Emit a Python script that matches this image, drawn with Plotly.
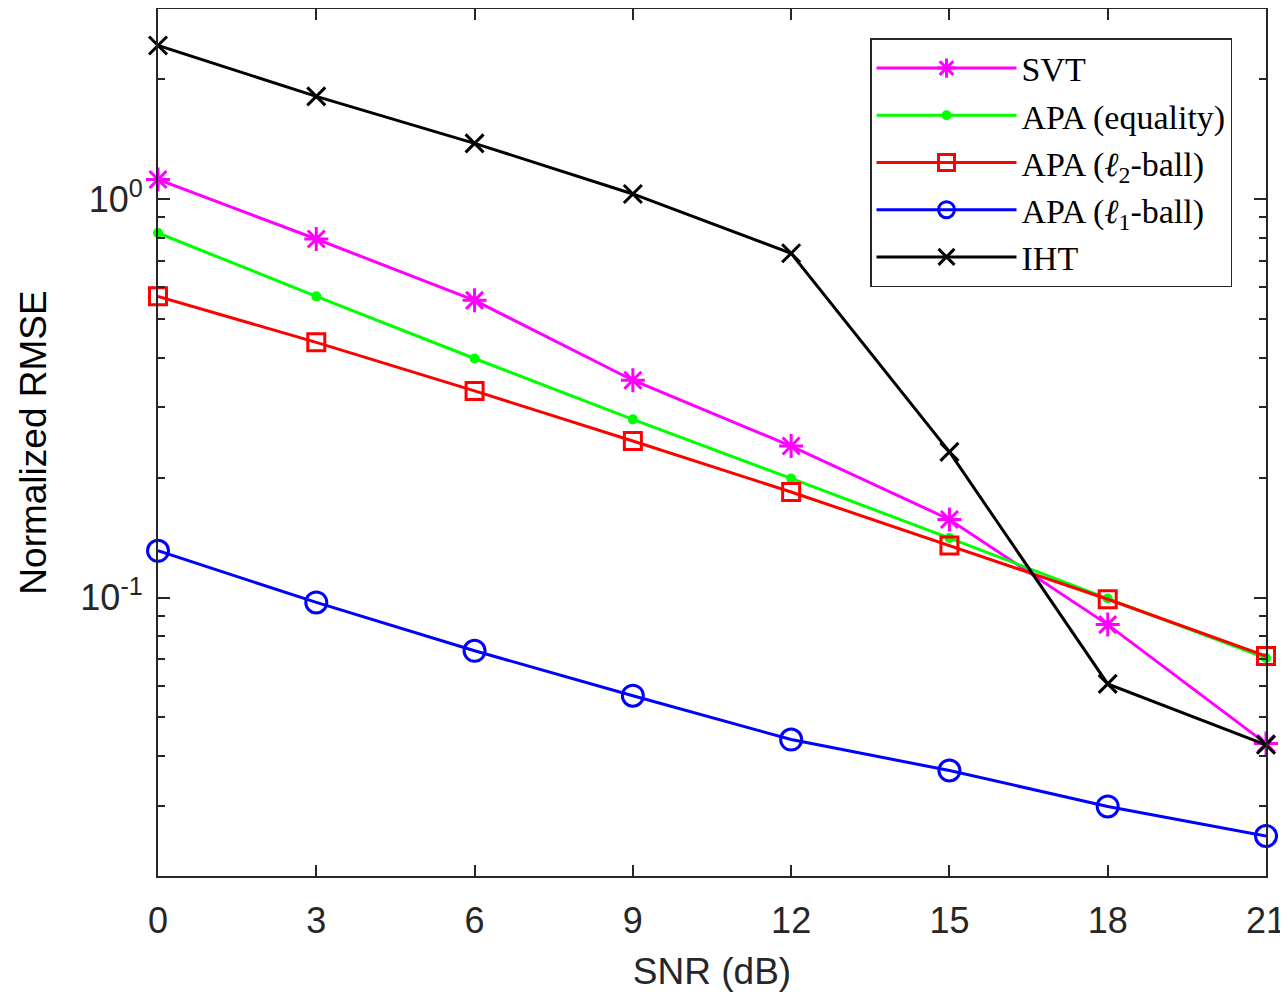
import plotly.graph_objects as go

snr = [0, 3, 6, 9, 12, 15, 18, 21]
svt = [1.12, 0.794, 0.557, 0.351, 0.240, 0.157, 0.0855, 0.0430]
apa_eq = [0.822, 0.570, 0.398, 0.280, 0.199, 0.141, 0.0994, 0.0705]
apa_l2 = [0.570, 0.437, 0.330, 0.247, 0.184, 0.135, 0.0990, 0.0713]
apa_l1 = [0.131, 0.0972, 0.0735, 0.0567, 0.0440, 0.0368, 0.0299, 0.0252]
iht = [2.43, 1.81, 1.38, 1.03, 0.731, 0.232, 0.0607, 0.0427]

names = ["SVT", "APA (equality)", "APA (<i>ℓ</i><sub>2</sub>-ball)",
         "APA (<i>ℓ</i><sub>1</sub>-ball)", "IHT"]
x_ticks = [0, 3, 6, 9, 12, 15, 18, 21]
y_ticks = [0.1, 1]
y_ticktext = ["10<sup>-1</sup>", "10<sup>0</sup>"]
y_minor = [0.02, 0.03, 0.04, 0.05, 0.06, 0.07, 0.08, 0.09,
           0.2, 0.3, 0.4, 0.5, 0.6, 0.7, 0.8, 0.9, 2, 3]

AX = "#262626"
LW = 3

fig = go.Figure()
series = [
    (svt, names[0], "#ff00ff", "asterisk-open", 20),
    (apa_eq, names[1], "#00ff00", "circle", 7),
    (apa_l2, names[2], "#ff0000", "square-open", 17),
    (apa_l1, names[3], "#0000ff", "circle-open", 21),
    (iht, names[4], "#000000", "x-thin-open", 18),
]
for ys, nm, col, sym, sz in series:
    fig.add_trace(go.Scatter(
        x=snr, y=ys, name=nm, mode="lines+markers",
        line=dict(color=col, width=LW),
        marker=dict(symbol=sym, size=sz, color=col,
                    line=dict(color=col, width=LW)),
        cliponaxis=False,
    ))

# page body adds an 8px offset; figure is sized so the plot area lands at x 158-1266, y 9-876
fig.update_layout(
    width=1280, height=984,
    margin=dict(l=150, r=22, t=1, b=116),
    paper_bgcolor="white", plot_bgcolor="white",
    font=dict(family="Liberation Sans, Arial", color=AX, size=36),
    showlegend=True,
    legend=dict(
        x=(1232 - 158) / 1108, y=(876 - 38) / 867, xanchor="right", yanchor="top",
        bgcolor="white", bordercolor=AX, borderwidth=1.5,
        font=dict(family="Liberation Serif, Times New Roman", size=34, color="#000000"),
        tracegroupgap=0, itemwidth=140,
    ),
    xaxis=dict(
        range=[0, 21], tickmode="array", tickvals=x_ticks,
        ticks="inside", ticklen=11, tickwidth=1.5, tickcolor=AX,
        showline=True, linecolor=AX, linewidth=2, mirror="ticks",
        showgrid=False, zeroline=False, automargin=False,
        tickfont=dict(size=36, color=AX),
        ticklabelstandoff=12,
        title=dict(text="SNR (dB)", font=dict(size=37, color=AX), standoff=29),
    ),
    yaxis=dict(
        type="log", range=[-1.69897, 0.4771],
        tickmode="array", tickvals=y_ticks, ticktext=y_ticktext,
        ticks="inside", ticklen=12, tickwidth=1.5, tickcolor=AX,
        minor=dict(tickvals=y_minor, ticks="inside", ticklen=7, tickwidth=1.5,
                   tickcolor=AX, showgrid=False),
        showline=True, linecolor=AX, linewidth=2, mirror="ticks",
        showgrid=False, zeroline=False, automargin=False,
        tickfont=dict(size=36, color=AX),
        ticklabelstandoff=6,
        title=dict(text="Normalized RMSE", font=dict(size=37, color="#000000"), standoff=22),
    ),
)

fig.write_html("out.html")
